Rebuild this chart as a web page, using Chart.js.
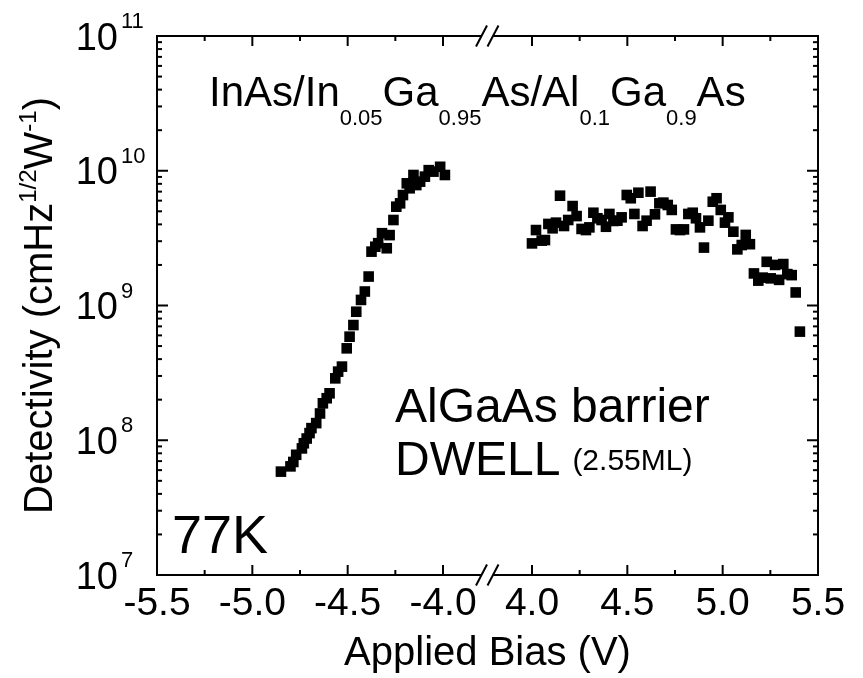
<!DOCTYPE html>
<html>
<head>
<meta charset="utf-8">
<script src="https://cdn.jsdelivr.net/npm/chart.js@4.4.1/dist/chart.umd.min.js"></script>
<style>
  html, body { margin: 0; padding: 0; background: #fff; }
</style>
</head>
<body>
<canvas id="detChart" width="863" height="678"></canvas>
<script>
// ===== DATA =====
// negative bias branch
const biasNeg = [-4.85, -4.80, -4.785, -4.77, -4.74, -4.73, -4.715, -4.70, -4.69, -4.665,
    -4.645, -4.63, -4.61, -4.595, -4.565, -4.55, -4.53, -4.505, -4.49, -4.47,
    -4.455, -4.43, -4.41, -4.39, -4.375, -4.355, -4.34, -4.32, -4.295, -4.28,
    -4.26, -4.245, -4.225, -4.21, -4.19, -4.175, -4.155, -4.14, -4.12, -4.095,
    -4.075, -4.05, -4.015, -3.99];
const detNeg = [5.85e7, 6.4e7, 6.9e7, 7.8e7, 8.7e7, 9.5e7, 1.03e8, 1.13e8, 1.23e8, 1.34e8,
    1.58e8, 1.88e8, 2.05e8, 2.23e8, 2.88e8, 3.23e8, 3.52e8, 4.81e8, 5.87e8, 7.16e8,
    8.99e8, 1.10e9, 1.27e9, 1.64e9, 2.51e9, 2.73e9, 2.90e9, 3.44e9, 2.66e9, 3.33e9,
    4.31e9, 5.41e9, 5.73e9, 6.6e9, 8.07e9, 7.41e9, 9.3e9, 7.83e9, 8.3e9, 9.04e9,
    1.01e10, 9.85e9, 1.07e10, 9.3e9];

// positive bias branch
const biasPos = [4.00, 4.021, 4.051, 4.068, 4.086, 4.108, 4.126, 4.147, 4.168, 4.190,
    4.213, 4.234, 4.260, 4.283, 4.301, 4.322, 4.343, 4.365, 4.388, 4.406,
    4.427, 4.448, 4.470, 4.497, 4.518, 4.537, 4.558, 4.580, 4.601, 4.622,
    4.645, 4.668, 4.689, 4.712, 4.733, 4.755, 4.776, 4.797, 4.820, 4.843,
    4.860, 4.881, 4.902, 4.925, 4.948, 4.968, 4.990, 5.012, 5.030, 5.056,
    5.077, 5.100, 5.121, 5.143, 5.164, 5.187, 5.210, 5.231, 5.252, 5.275,
    5.296, 5.318, 5.339, 5.362, 5.383, 5.405];
const detPos = [2.89e9, 3.63e9, 3.03e9, 3.06e9, 4.03e9, 3.74e9, 4.12e9, 6.53e9, 3.89e9, 4.31e9,
    5.47e9, 4.61e9, 3.70e9, 3.63e9, 3.80e9, 4.88e9, 4.44e9, 4.31e9, 3.84e9, 4.78e9,
    4.24e9, 4.26e9, 4.51e9, 6.61e9, 6.25e9, 4.78e9, 6.87e9, 3.89e9, 4.26e9, 7.0e9,
    4.75e9, 5.73e9, 5.80e9, 5.57e9, 5.12e9, 3.67e9, 3.63e9, 3.67e9, 4.78e9, 4.88e9,
    4.44e9, 3.80e9, 2.69e9, 4.26e9, 5.89e9, 6.25e9, 5.12e9, 4.12e9, 4.51e9, 3.53e9,
    2.61e9, 2.81e9, 3.34e9, 2.85e9, 1.73e9, 1.53e9, 1.61e9, 2.11e9, 1.59e9, 2.00e9,
    1.55e9, 2.03e9, 1.71e9, 1.68e9, 1.25e9, 6.4e8];

// axis ticks
const xMajorNeg = [-5.5, -5.0, -4.5, -4.0];
const xMajorPos = [4.0, 4.5, 5.0, 5.5];
const xMinorNeg = [-5.25, -4.75, -4.25];
const xMinorPos = [4.25, 4.75, 5.25];
const yDecades = [7, 8, 9, 10, 11];

// both halves of the broken axis share one linear scale:
// positive biases are slid left so 4.0 sits just after the break
const GAP = 0.4667;
const SHIFT = 8 - GAP;
const toAxis = v => (v > 0 ? v - SHIFT : v);

const FONT = '"Liberation Sans", Arial, sans-serif';

// draws a run of text pieces, some raised or lowered
function drawRich(ctx, parts, x, y) {
    let cx = x;
    parts.forEach(p => {
        ctx.font = p.size + 'px ' + FONT;
        ctx.fillText(p.text, cx, y + (p.dy || 0));
        cx += ctx.measureText(p.text).width;
    });
    return cx - x;
}
function richWidth(ctx, parts) {
    let w = 0;
    parts.forEach(p => {
        ctx.font = p.size + 'px ' + FONT;
        w += ctx.measureText(p.text).width;
    });
    return w;
}

const axesPlugin = {
    id: 'originAxes',
    afterDraw(chart) {
        const { ctx, chartArea: a, scales: { x, y } } = chart;
        ctx.save();
        ctx.strokeStyle = '#000';
        ctx.fillStyle = '#000';
        ctx.lineWidth = 2;

        const line = (x1, y1, x2, y2) => {
            ctx.beginPath();
            ctx.moveTo(x1, y1);
            ctx.lineTo(x2, y2);
            ctx.stroke();
        };

        ctx.strokeRect(a.left, a.top, a.right - a.left, a.bottom - a.top);

        // x ticks, pointing inward on top and bottom
        [...xMajorNeg, ...xMajorPos].forEach(v => {
            const px = x.getPixelForValue(toAxis(v));
            line(px, a.bottom, px, a.bottom - 10);
            line(px, a.top, px, a.top + 10);
        });
        [...xMinorNeg, ...xMinorPos].forEach(v => {
            const px = x.getPixelForValue(toAxis(v));
            line(px, a.bottom, px, a.bottom - 5);
            line(px, a.top, px, a.top + 5);
        });

        // y ticks, decades plus 2..9 in between
        yDecades.forEach(e => {
            const py = y.getPixelForValue(Math.pow(10, e));
            line(a.left, py, a.left + 11, py);
            line(a.right, py, a.right - 11, py);
            if (e < 11) {
                for (let m = 2; m <= 9; m++) {
                    const pm = y.getPixelForValue(m * Math.pow(10, e));
                    line(a.left, pm, a.left + 5, pm);
                    line(a.right, pm, a.right - 5, pm);
                }
            }
        });

        // axis break marks
        const bx = (x.getPixelForValue(-4.0) + x.getPixelForValue(toAxis(4.0))) / 2;
        [a.top, a.bottom].forEach(yy => {
            ctx.fillStyle = '#fff';
            ctx.fillRect(bx - 6, yy - 2, 12, 4);
            ctx.fillStyle = '#000';
            [-6, 5.5].forEach(d => line(bx + d - 5.5, yy + 10.5, bx + d + 5.5, yy - 10.5));
        });

        // x tick labels
        ctx.font = '39px ' + FONT;
        ctx.textAlign = 'center';
        ctx.textBaseline = 'alphabetic';
        [...xMajorNeg, ...xMajorPos].forEach(v => {
            ctx.fillText(v.toFixed(1), x.getPixelForValue(toAxis(v)), 615);
        });

        // y tick labels as 10^n
        yDecades.forEach(e => {
            const py = y.getPixelForValue(Math.pow(10, e));
            ctx.font = '38px ' + FONT;
            ctx.textAlign = 'right';
            ctx.fillText('10', 118, py + 13.5);
            ctx.font = '22px ' + FONT;
            ctx.textAlign = 'left';
            ctx.fillText(String(e), 121, py - 8);
        });

        // axis titles
        ctx.textAlign = 'left';
        ctx.font = '40px ' + FONT;
        const xTitle = 'Applied Bias (V)';
        const xtw = ctx.measureText(xTitle).width;
        ctx.fillText(xTitle, (a.left + a.right) / 2 - xtw / 2, 665);

        const yTitle = [
            { text: 'Detectivity (cmHz', size: 40 },
            { text: '1/2', size: 24, dy: -16 },
            { text: 'W', size: 40 },
            { text: '-1', size: 24, dy: -16 },
            { text: ')', size: 40 }
        ];
        ctx.save();
        ctx.translate(52, (a.top + a.bottom) / 2);
        ctx.rotate(-Math.PI / 2);
        drawRich(ctx, yTitle, -richWidth(ctx, yTitle) / 2, 0);
        ctx.restore();

        // sample description
        drawRich(ctx, [
            { text: 'InAs/In', size: 42 },
            { text: '0.05', size: 22, dy: 19 },
            { text: 'Ga', size: 42 },
            { text: '0.95', size: 22, dy: 19 },
            { text: 'As/Al', size: 42 },
            { text: '0.1', size: 22, dy: 19 },
            { text: 'Ga', size: 42 },
            { text: '0.9', size: 22, dy: 19 },
            { text: 'As', size: 42 }
        ], 209, 106);

        ctx.font = '48px ' + FONT;
        ctx.fillText('AlGaAs barrier', 395, 422);
        const dw = drawRich(ctx, [{ text: 'DWELL', size: 48 }], 395, 475);
        ctx.font = '30px ' + FONT;
        ctx.fillText('(2.55ML)', 395 + dw + 12, 470);

        ctx.font = '54px ' + FONT;
        ctx.fillText('77K', 172, 553);

        ctx.restore();
    }
};

new Chart(document.getElementById('detChart'), {
    type: 'scatter',
    data: {
        datasets: [
            {
                label: 'negative bias',
                data: biasNeg.map((b, i) => ({ x: toAxis(b), y: detNeg[i] }))
            },
            {
                label: 'positive bias',
                data: biasPos.map((b, i) => ({ x: toAxis(b), y: detPos[i] }))
            }
        ]
    },
    options: {
        responsive: false,
        animation: false,
        devicePixelRatio: 1,
        layout: {
            padding: { left: 157, top: 36, right: 45, bottom: 103 }
        },
        elements: {
            point: {
                pointStyle: 'rect',
                radius: 7.5,
                backgroundColor: '#000',
                borderWidth: 0
            }
        },
        scales: {
            x: { type: 'linear', min: -5.5, max: 5.5 - SHIFT, display: false },
            y: { type: 'logarithmic', min: 1e7, max: 1e11, display: false }
        },
        plugins: {
            legend: { display: false },
            tooltip: { enabled: false }
        }
    },
    plugins: [axesPlugin]
});
</script>
</body>
</html>
